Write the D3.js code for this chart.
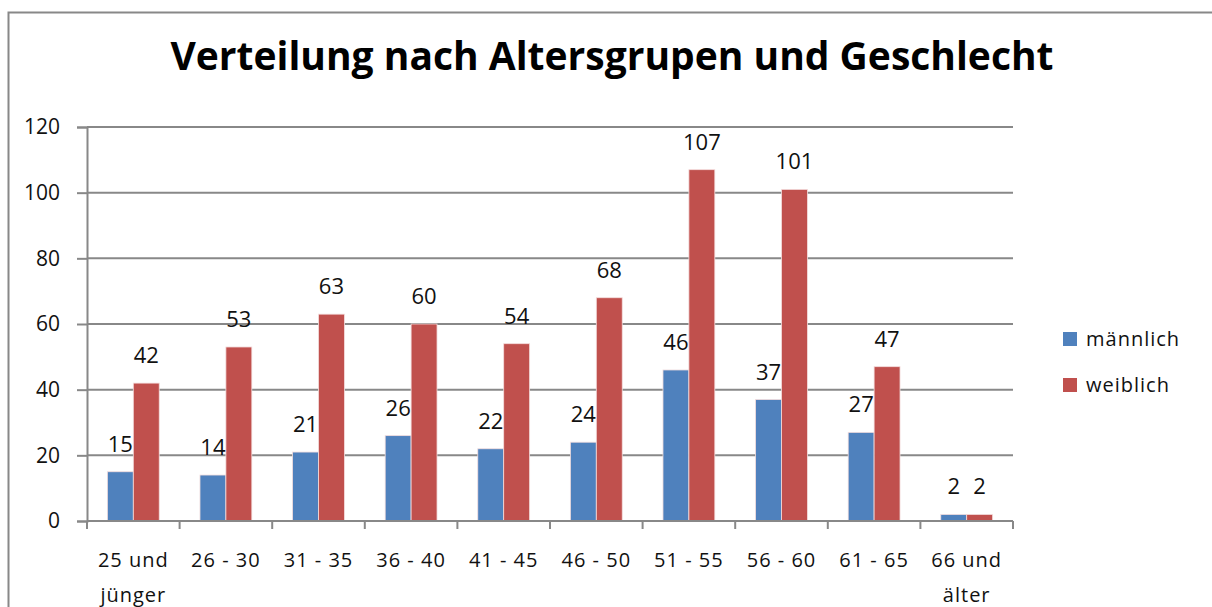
<!doctype html>
<html lang="de">
<head>
<meta charset="utf-8">
<script src="https://cdnjs.cloudflare.com/ajax/libs/d3/7.8.5/d3.min.js"></script>
<style>
  body { margin: 0; background: #fff; font-family: 'Open Sans', sans-serif; }
  svg { display: block; }
  .val-label { fill: #111; font-size: 22px; }
  .cat-label { fill: #111; font-size: 20px; letter-spacing: 1px; }
  .legend-label { fill: #111; font-size: 20px; letter-spacing: 1px; }
</style>
</head>
<body>
<script>
// Data
const categories = ["25 und\njünger", "26 - 30", "31 - 35", "36 - 40", "41 - 45", "46 - 50", "51 - 55", "56 - 60", "61 - 65", "66 und\nälter"];
const seriesNames = ["männlich", "weiblich"];
const maennlich = [15, 14, 21, 26, 22, 24, 46, 37, 27, 2];
const weiblich = [42, 53, 63, 60, 54, 68, 107, 101, 47, 2];
const yTicks = [0, 20, 40, 60, 80, 100, 120];
const colors = ["#4F81BD", "#C0504D"];

const w = 1212, h = 607;
const plot = { left: 87, right: 1013, top: 127, bottom: 521 };

const svg = d3.select("body").append("svg")
  .attr("width", w)
  .attr("height", h);

// outer chart border (runs past the picture right and bottom)
svg.append("rect")
  .attr("x", 8.5).attr("y", 12.5)
  .attr("width", 1300).attr("height", 700)
  .attr("fill", "none")
  .attr("stroke", "#888")
  .attr("stroke-width", 2);

// title
svg.append("text")
  .attr("x", 612)
  .attr("y", 70)
  .attr("text-anchor", "middle")
  .style("font-family", "'Open Sans', sans-serif")
  .style("font-weight", 700)
  .style("font-size", "39px")
  .style("fill", "#000")
  .text("Verteilung nach Altersgrupen und Geschlecht");

// scales
const xScale = d3.scaleBand()
  .domain(d3.range(categories.length))
  .range([plot.left, plot.right])
  .paddingInner(0).paddingOuter(0);

const groupW = xScale.bandwidth() * 0.56;
const xSub = d3.scaleBand()
  .domain(d3.range(seriesNames.length))
  .range([0, groupW]);

const yScale = d3.scaleLinear()
  .domain([0, 120])
  .range([plot.bottom, plot.top]);

// y axis
const yAxis = d3.axisLeft(yScale)
  .tickValues(yTicks)
  .tickSize(10)
  .tickPadding(17)
  .tickFormat(d3.format("d"));

const yG = svg.append("g")
  .attr("transform", "translate(" + plot.left + ",0)")
  .call(yAxis);
yG.select(".domain").attr("stroke", "#888").attr("stroke-width", 2);
yG.selectAll(".tick line").attr("stroke", "#888").attr("stroke-width", 2);
yG.selectAll(".tick text")
  .style("font-family", "'Open Sans', sans-serif")
  .style("font-size", "21px")
  .attr("fill", "#111");

// gridlines
svg.append("g").selectAll("line")
  .data(yTicks.filter(d => d > 0))
  .enter().append("line")
  .attr("x1", plot.left).attr("x2", plot.right)
  .attr("y1", d => yScale(d)).attr("y2", d => yScale(d))
  .attr("stroke", "#888")
  .attr("stroke-width", 2);

// bars
const groups = svg.append("g").selectAll("g")
  .data(categories.map((c, i) => [maennlich[i], weiblich[i]]))
  .enter().append("g")
  .attr("transform", (d, i) => "translate(" + (xScale(i) + (xScale.bandwidth() - groupW) / 2) + ",0)");

groups.selectAll("rect")
  .data(d => d)
  .enter().append("rect")
  .attr("x", (d, j) => xSub(j))
  .attr("y", d => yScale(d))
  .attr("width", xSub.bandwidth())
  .attr("height", d => yScale(0) - yScale(d))
  .attr("fill", (d, j) => colors[j])
  .attr("stroke", "#f4dede")
  .attr("stroke-width", 0.8);

groups.selectAll("text")
  .data(d => d)
  .enter().append("text")
  .attr("class", "val-label")
  .attr("x", (d, j) => xSub(j) + xSub.bandwidth() / 2)
  .attr("y", d => yScale(d) - 20)
  .attr("text-anchor", "middle")
  .text(d => d);

// x axis
const xAxisG = svg.append("g");
xAxisG.append("line")
  .attr("x1", plot.left).attr("x2", plot.right)
  .attr("y1", plot.bottom).attr("y2", plot.bottom)
  .attr("stroke", "#888").attr("stroke-width", 2);
xAxisG.selectAll(".xtick")
  .data(d3.range(categories.length + 1))
  .enter().append("line")
  .attr("class", "xtick")
  .attr("x1", i => i < categories.length ? xScale(i) : plot.right)
  .attr("x2", i => i < categories.length ? xScale(i) : plot.right)
  .attr("y1", plot.bottom).attr("y2", plot.bottom + 8)
  .attr("stroke", "#888").attr("stroke-width", 2);

const catText = xAxisG.selectAll(".cat-label")
  .data(categories)
  .enter().append("text")
  .attr("class", "cat-label")
  .attr("text-anchor", "middle")
  .attr("x", (d, i) => xScale(i) + xScale.bandwidth() / 2)
  .attr("y", 567);
catText.selectAll("tspan")
  .data(d => d.split("\n"))
  .enter().append("tspan")
  .attr("x", function() { return d3.select(this.parentNode).attr("x"); })
  .attr("dy", (d, k) => k === 0 ? 0 : 35)
  .text(d => d);

// legend
const legend = svg.append("g").attr("id", "legend");
const legendY = d3.scalePoint().domain(seriesNames).range([339, 385]);
legend.selectAll("rect")
  .data(seriesNames)
  .enter().append("rect")
  .attr("x", 1063)
  .attr("y", d => legendY(d) - 7)
  .attr("width", 14).attr("height", 14)
  .attr("fill", (d, i) => colors[i]);
legend.selectAll("text")
  .data(seriesNames)
  .enter().append("text")
  .attr("class", "legend-label")
  .attr("x", 1086)
  .attr("y", d => legendY(d) + 7)
  .text(d => d);
</script>
</body>
</html>
